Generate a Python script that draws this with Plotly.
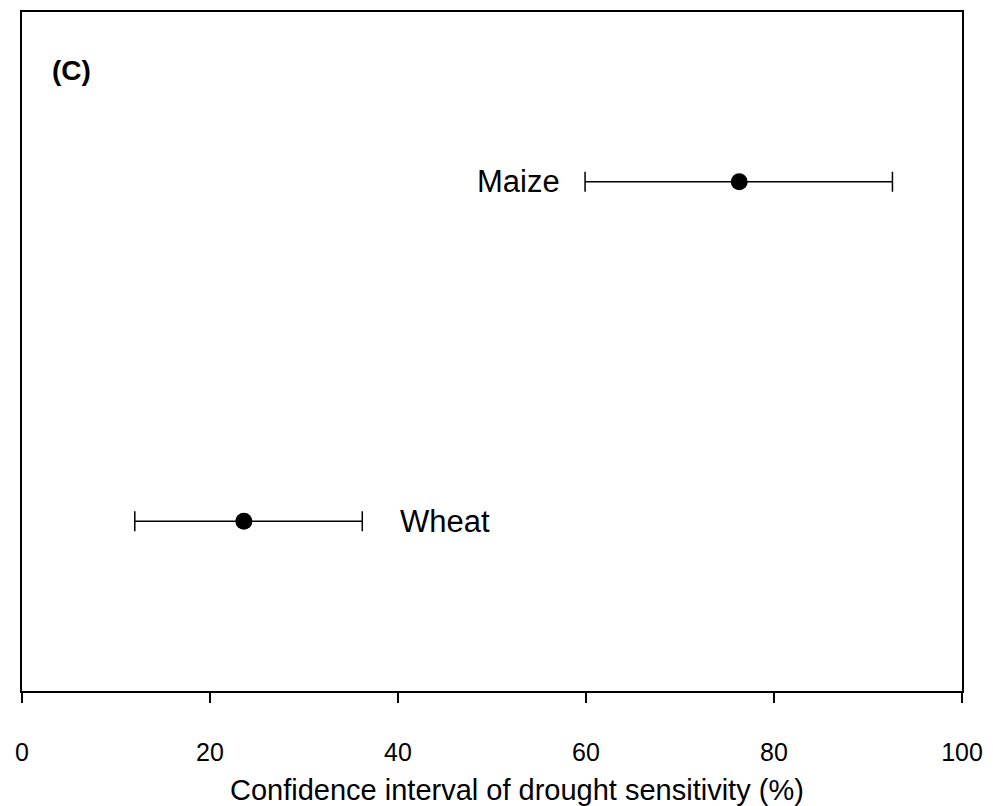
import plotly.graph_objects as go

crops = ["Maize", "Wheat"]
y_pos = [3, 1]
means = [76.3, 23.6]
lower = [59.9, 12.0]
upper = [92.6, 36.2]
x_ticks = [0, 20, 40, 60, 80, 100]
x_title = "Confidence interval of drought sensitivity (%)"

err_plus = [u - m for u, m in zip(upper, means)]
err_minus = [m - l for m, l in zip(means, lower)]

FONT = "Liberation Sans, Arial, sans-serif"

fig = go.Figure()
fig.add_trace(go.Scatter(
    x=means, y=y_pos, mode="markers",
    marker=dict(color="black", size=17),
    error_x=dict(type="data", symmetric=False, array=err_plus, arrayminus=err_minus,
                 color="black", thickness=1.5, width=10),
    showlegend=False,
))

# labels
fig.add_annotation(x=lower[0], y=y_pos[0], xref="x", yref="y", text=crops[0],
                   showarrow=False, xanchor="right", yanchor="middle", xshift=-23,
                   font=dict(family=FONT, size=31, color="black"))
fig.add_annotation(x=upper[1], y=y_pos[1], xref="x", yref="y", text=crops[1],
                   showarrow=False, xanchor="left", yanchor="middle", xshift=36,
                   font=dict(family=FONT, size=31, color="black"))
fig.add_annotation(x=0, y=1, xref="paper", yref="paper", text="<b>(C)</b>",
                   showarrow=False, xanchor="left", yanchor="middle", xshift=28, yshift=-58,
                   font=dict(family=FONT, size=28, color="black"))
# x-axis title
fig.add_annotation(x=0.527, y=0, xref="paper", yref="paper", text=x_title,
                   showarrow=False, xanchor="center", yanchor="middle", yshift=-99,
                   font=dict(family=FONT, size=29, color="black"))

fig.update_layout(
    width=993, height=806,
    margin=dict(l=22, r=27, t=10, b=115),
    plot_bgcolor="white", paper_bgcolor="white",
    font=dict(family=FONT, color="black"),
    xaxis=dict(range=[0, 100], tickvals=x_ticks, ticks="outside", ticklen=10, tickwidth=1.5,
               tickcolor="black", showline=True, linecolor="black", linewidth=1.5,
               mirror=True, showgrid=False, zeroline=False, ticklabelstandoff=28,
               tickfont=dict(size=25, family=FONT)),
    yaxis=dict(range=[0, 4], showticklabels=False, ticks="", showline=True,
               linecolor="black", linewidth=1.5, mirror=True, showgrid=False, zeroline=False),
)

fig.write_html("out.html", config={"displayModeBar": False},
               post_script="document.body.style.margin='0';document.documentElement.style.overflow='hidden';")
